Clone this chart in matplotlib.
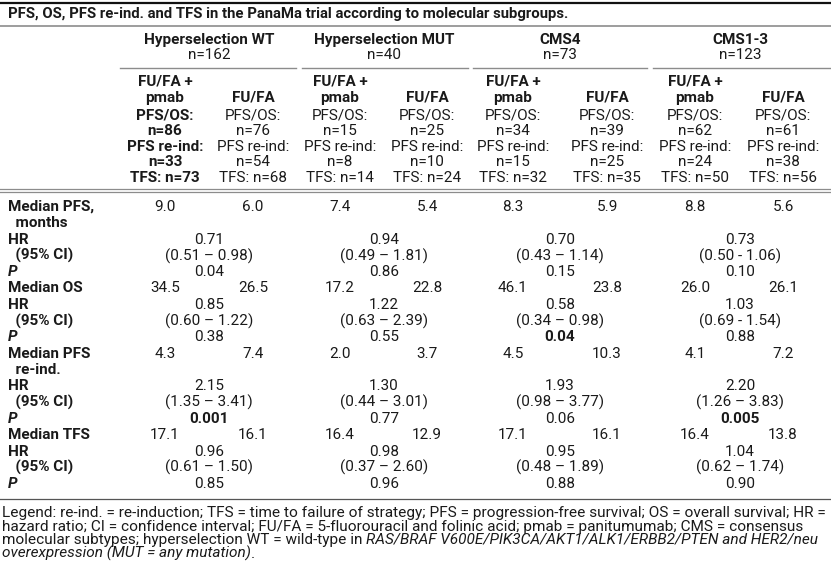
# -*- coding: utf-8 -*-
"""
PanaMa trial table: PFS, OS, PFS re-ind. and TFS by molecular subgroup
"""
import matplotlib
matplotlib.use("Agg")
import matplotlib.pyplot as plt
from matplotlib.lines import Line2D

plt.rcParams['font.family'] = ['Roboto', 'DejaVu Sans']

# table content
title = "PFS, OS, PFS re-ind. and TFS in the PanaMa trial according to molecular subgroups."
groups = ["Hyperselection WT", "Hyperselection MUT", "CMS4", "CMS1-3"]
group_n = ["n=162", "n=40", "n=73", "n=123"]

# per arm (FU/FA + pmab, FU/FA) for each group
n_pfs_os = [86, 76, 15, 25, 34, 39, 62, 61]
n_pfs_reind = [33, 54, 8, 10, 15, 25, 24, 38]
n_tfs = [73, 68, 14, 24, 32, 35, 50, 56]

median_pfs = [9.0, 6.0, 7.4, 5.4, 8.3, 5.9, 8.8, 5.6]
median_os = [34.5, 26.5, 17.2, 22.8, 46.1, 23.8, 26.0, 26.1]
median_pfs_reind = [4.3, 7.4, 2.0, 3.7, 4.5, 10.3, 4.1, 7.2]
median_tfs = [17.1, 16.1, 16.4, 12.9, 17.1, 16.1, 16.4, 13.8]

# per group
hr_pfs = ["0.71", "0.94", "0.70", "0.73"]
ci_pfs = ["(0.51 \u2013 0.98)", "(0.49 \u2013 1.81)", "(0.43 \u2013 1.14)", "(0.50 - 1.06)"]
p_pfs = ["0.04", "0.86", "0.15", "0.10"]
bold_pfs = [False, False, False, False]

hr_os = ["0.85", "1.22", "0.58", "1.03"]
ci_os = ["(0.60 \u2013 1.22)", "(0.63 \u2013 2.39)", "(0.34 \u2013 0.98)", "(0.69 - 1.54)"]
p_os = ["0.38", "0.55", "0.04", "0.88"]
bold_os = [False, False, True, False]

hr_reind = ["2.15", "1.30", "1.93", "2.20"]
ci_reind = ["(1.35 \u2013 3.41)", "(0.44 \u2013 3.01)", "(0.98 \u2013 3.77)", "(1.26 \u2013 3.83)"]
p_reind = ["0.001", "0.77", "0.06", "0.005"]
bold_reind = [True, False, False, True]

hr_tfs = ["0.96", "0.98", "0.95", "1.04"]
ci_tfs = ["(0.61 \u2013 1.50)", "(0.37 \u2013 2.60)", "(0.48 \u2013 1.89)", "(0.62 \u2013 1.74)"]
p_tfs = ["0.85", "0.96", "0.88", "0.90"]
bold_tfs = [False, False, False, False]

legend_lines = [
    "Legend: re-ind. = re-induction; TFS = time to failure of strategy; PFS = progression-free survival; OS = overall survival; HR =",
    "hazard ratio; CI = confidence interval; FU/FA = 5-fluorouracil and folinic acid; pmab = panitumumab; CMS = consensus",
]
legend_plain3 = "molecular subtypes; hyperselection WT = wild-type in "
legend_ital3 = "RAS/BRAF V600E/PIK3CA/AKT1/ALK1/ERBB2/PTEN and HER2/neu"
legend_ital4 = "overexpression (MUT = any mutation)"

# layout in pixels
W, H = 831, 565
fig = plt.figure(figsize=(W / 100, H / 100), dpi=100)
fig.patch.set_facecolor('w')

FS = 11.0
TFS_ = 10.75
LFS = 11.1
TXT = '#1a1a1a'
GRAY = '#8c8c8c'


def T(x, y, s, ha='center', **kw):
    kw.setdefault('fontsize', FS)
    kw.setdefault('color', TXT)
    return fig.text(x / W, 1 - y / H, s, ha=ha, va='center', **kw)


def hline(x0, x1, y, color=GRAY, lw=1.0):
    fig.add_artist(Line2D([x0 / W, x1 / W], [1 - y / H, 1 - y / H],
                          color=color, lw=lw, transform=fig.transFigure))


arm_x = [165, 253, 340, 427, 513, 607, 695, 783]
grp_x = [209, 384, 560, 740]
grp_span = [(120, 296), (302, 468), (473, 647), (653, 831)]

# rules
hline(0, W, 3, color='#111111', lw=1.6)
hline(0, W, 26, lw=1.2)
for x0, x1 in grp_span:
    hline(x0, x1, 68, lw=1.0)
hline(0, W, 189, lw=0.9)
hline(0, W, 192, lw=0.9)
hline(0, W, 499, color='#555555', lw=0.9)

T(8, 14, title, ha='left', fontweight='bold', fontsize=TFS_)

# group headers
for i, g in enumerate(groups):
    T(grp_x[i], 40, g, fontweight='bold')
    T(grp_x[i], 55, group_n[i])

# arm headers
hy = [82, 98, 115, 131, 147, 162, 178]
for k in range(8):
    x = arm_x[k]
    if k % 2 == 0:
        T(x, hy[0], "FU/FA +", fontweight='bold')
        T(x, hy[1], "pmab", fontweight='bold')
        w = 'bold' if k == 0 else 'normal'
    else:
        T(x, hy[1], "FU/FA", fontweight='bold')
        w = 'normal'
    T(x, hy[2], "PFS/OS:", fontweight=w)
    T(x, hy[3], "n=%d" % n_pfs_os[k], fontweight=w)
    T(x, hy[4], "PFS re-ind:", fontweight=w)
    T(x, hy[5], "n=%d" % n_pfs_reind[k], fontweight=w)
    T(x, hy[6], "TFS: n=%d" % n_tfs[k], fontweight=w)

# body rows
row0 = 207
dy = 16.3


def ry(i):
    return row0 + i * dy


blocks = [
    (0, ["Median PFS,", "  months"], median_pfs, hr_pfs, ci_pfs, p_pfs, bold_pfs),
    (5, ["Median OS"], median_os, hr_os, ci_os, p_os, bold_os),
    (9, ["Median PFS", "  re-ind."], median_pfs_reind, hr_reind, ci_reind, p_reind, bold_reind),
    (14, ["Median TFS"], median_tfs, hr_tfs, ci_tfs, p_tfs, bold_tfs),
]

for start, labels, med, hr, ci, pv, pb in blocks:
    for j, lab in enumerate(labels):
        T(8, ry(start + j), lab, ha='left', fontweight='bold')
    for k in range(8):
        T(arm_x[k], ry(start), "%.1f" % med[k])
    r = start + len(labels)
    T(8, ry(r), "HR", ha='left', fontweight='bold')
    T(8, ry(r + 1), "  (95% CI)", ha='left', fontweight='bold')
    T(8, ry(r + 2), "P", ha='left', fontweight='bold', fontstyle='italic')
    for g in range(4):
        T(grp_x[g], ry(r), hr[g])
        T(grp_x[g], ry(r + 1), ci[g])
        T(grp_x[g], ry(r + 2), pv[g], fontweight='bold' if pb[g] else 'normal')

# legend
ly = [513, 526.5, 540, 553.5]
T(2, ly[0], legend_lines[0], ha='left', fontsize=LFS)
T(2, ly[1], legend_lines[1], ha='left', fontsize=LFS)
t3 = T(2, ly[2], legend_plain3, ha='left', fontsize=LFS)
t4 = T(2, ly[3], legend_ital4, ha='left', fontsize=LFS, fontstyle='italic')
fig.canvas.draw()
bb = t3.get_window_extent()
T(bb.x1 * W / fig.bbox.width, ly[2], legend_ital3, ha='left', fontsize=LFS, fontstyle='italic')
bb4 = t4.get_window_extent()
T(bb4.x1 * W / fig.bbox.width, ly[3], ".", ha='left', fontsize=LFS)

fig.savefig("out.png", dpi=100)
